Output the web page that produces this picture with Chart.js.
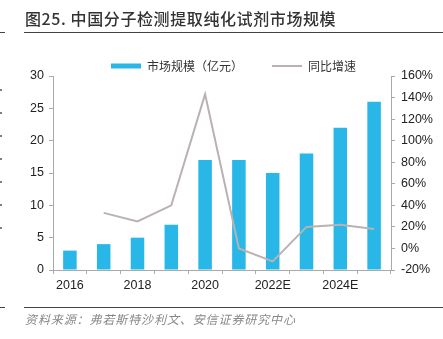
<!DOCTYPE html>
<html>
<head>
<meta charset="utf-8">
<script src="https://cdn.jsdelivr.net/npm/chart.js@4/dist/chart.umd.min.js"></script>
<style>
  html, body { margin: 0; padding: 0; background: #fff; }
  #wrap { position: relative; width: 443px; height: 339px; overflow: hidden; }
  #graph { position: absolute; left: 0; top: 0; }
  .title { position: absolute; left: 25px; top: 6px; font: 500 16px "Noto Sans CJK SC", sans-serif; color: #333; letter-spacing: 0.6px; white-space: nowrap; }
  .rule { position: absolute; left: 24px; right: 0; height: 1.5px; background: #444; }
  .stub { position: absolute; left: 0; width: 5px; height: 1.5px; background: #444; }
  .source { position: absolute; left: 25px; top: 310px; font: italic 12px "Noto Sans CJK SC", sans-serif; color: #888; letter-spacing: 0.9px; white-space: nowrap; }
  .dot { position: absolute; left: 0; width: 2px; height: 2px; background: #555; border-radius: 1px; }
</style>
</head>
<body>
<div id="wrap">
  <canvas id="graph" width="443" height="339"></canvas>
  <div class="title">图25. 中国分子检测提取纯化试剂市场规模</div>
  <div class="rule" style="top:31.5px"></div>
  <div class="stub" style="top:31.5px"></div>
  <div class="rule" style="top:306.5px"></div>
  <div class="stub" style="top:306.5px"></div>
  <div class="source">资料来源：弗若斯特沙利文、安信证券研究中心</div>
</div>
<script>
// side margin dots
[89, 112, 135, 158, 181, 204, 227].forEach(function (y) {
    var d = document.createElement('div');
    d.className = 'dot';
    d.style.top = y + 'px';
    document.getElementById('wrap').appendChild(d);
});

// Chart data
var years = ['2016', '2017', '2018', '2019', '2020', '2021', '2022E', '2023E', '2024E', '2025E'];
var marketSize = [3, 4, 5, 7, 17, 17, 15, 18, 22, 26];          // 亿元
var growthRate = [null, 33, 25, 40, 143, 0, -12, 20, 22, 18];    // %

var canvas = document.getElementById('graph');
var tickFont = { family: '"Liberation Sans", Arial, sans-serif', size: 12.5 };

var chart = new Chart(canvas, {
    type: 'bar',
    data: {
        labels: years,
        datasets: [{
            label: '市场规模（亿元）',
            data: marketSize,
            backgroundColor: '#29B7E7',
            borderWidth: 0,
            categoryPercentage: 1,
            barPercentage: 0.4,
            pointStyle: 'rect',
            yAxisID: 'y',
            order: 2
        }, {
            type: 'line',
            label: '同比增速',
            data: growthRate,
            borderColor: '#BAB2B2',
            backgroundColor: '#BAB2B2',
            borderWidth: 2,
            pointRadius: 0,
            pointStyle: 'line',
            tension: 0,
            yAxisID: 'y1',
            order: 1
        }]
    },
    options: {
        responsive: false,
        animation: false,
        layout: { padding: { left: 24, right: 0, top: 31, bottom: 44 } },
        plugins: {
            tooltip: { enabled: false },
            legend: {
                position: 'top',
                maxHeight: 45,
                labels: {
                    usePointStyle: true,
                    pointStyleWidth: 30,
                    boxHeight: 5,
                    padding: 29,
                    color: '#333',
                    font: { family: '"Noto Sans CJK SC", sans-serif', size: 12 },
                    sort: function (a, b) { return a.datasetIndex - b.datasetIndex; }
                }
            }
        },
        scales: {
            x: {
                grid: { offset: true, drawOnChartArea: false, tickLength: 4, color: '#AAA' },
                border: { color: '#AAA' },
                ticks: {
                    autoSkip: false,
                    maxRotation: 0,
                    padding: 4,
                    color: '#222',
                    font: tickFont,
                    callback: function (v, i) { return i % 2 === 0 ? years[i] : ''; }
                },
                afterFit: function (s) { s.height = 25; }
            },
            y: {
                position: 'left',
                min: 0,
                max: 30,
                ticks: { stepSize: 5, padding: 5, color: '#222', font: tickFont },
                grid: { drawOnChartArea: false, tickLength: 4, color: '#AAA' },
                border: { color: '#AAA' },
                afterFit: function (s) { s.width = 29; }
            },
            y1: {
                position: 'right',
                min: -20,
                max: 160,
                ticks: {
                    stepSize: 20,
                    padding: 6,
                    color: '#222',
                    font: tickFont,
                    callback: function (v) { return v + '%'; }
                },
                grid: { drawOnChartArea: false, tickLength: 4, color: '#AAA' },
                border: { color: '#AAA' },
                afterFit: function (s) { s.width = 52; }
            }
        }
    }
});
</script>
</body>
</html>
